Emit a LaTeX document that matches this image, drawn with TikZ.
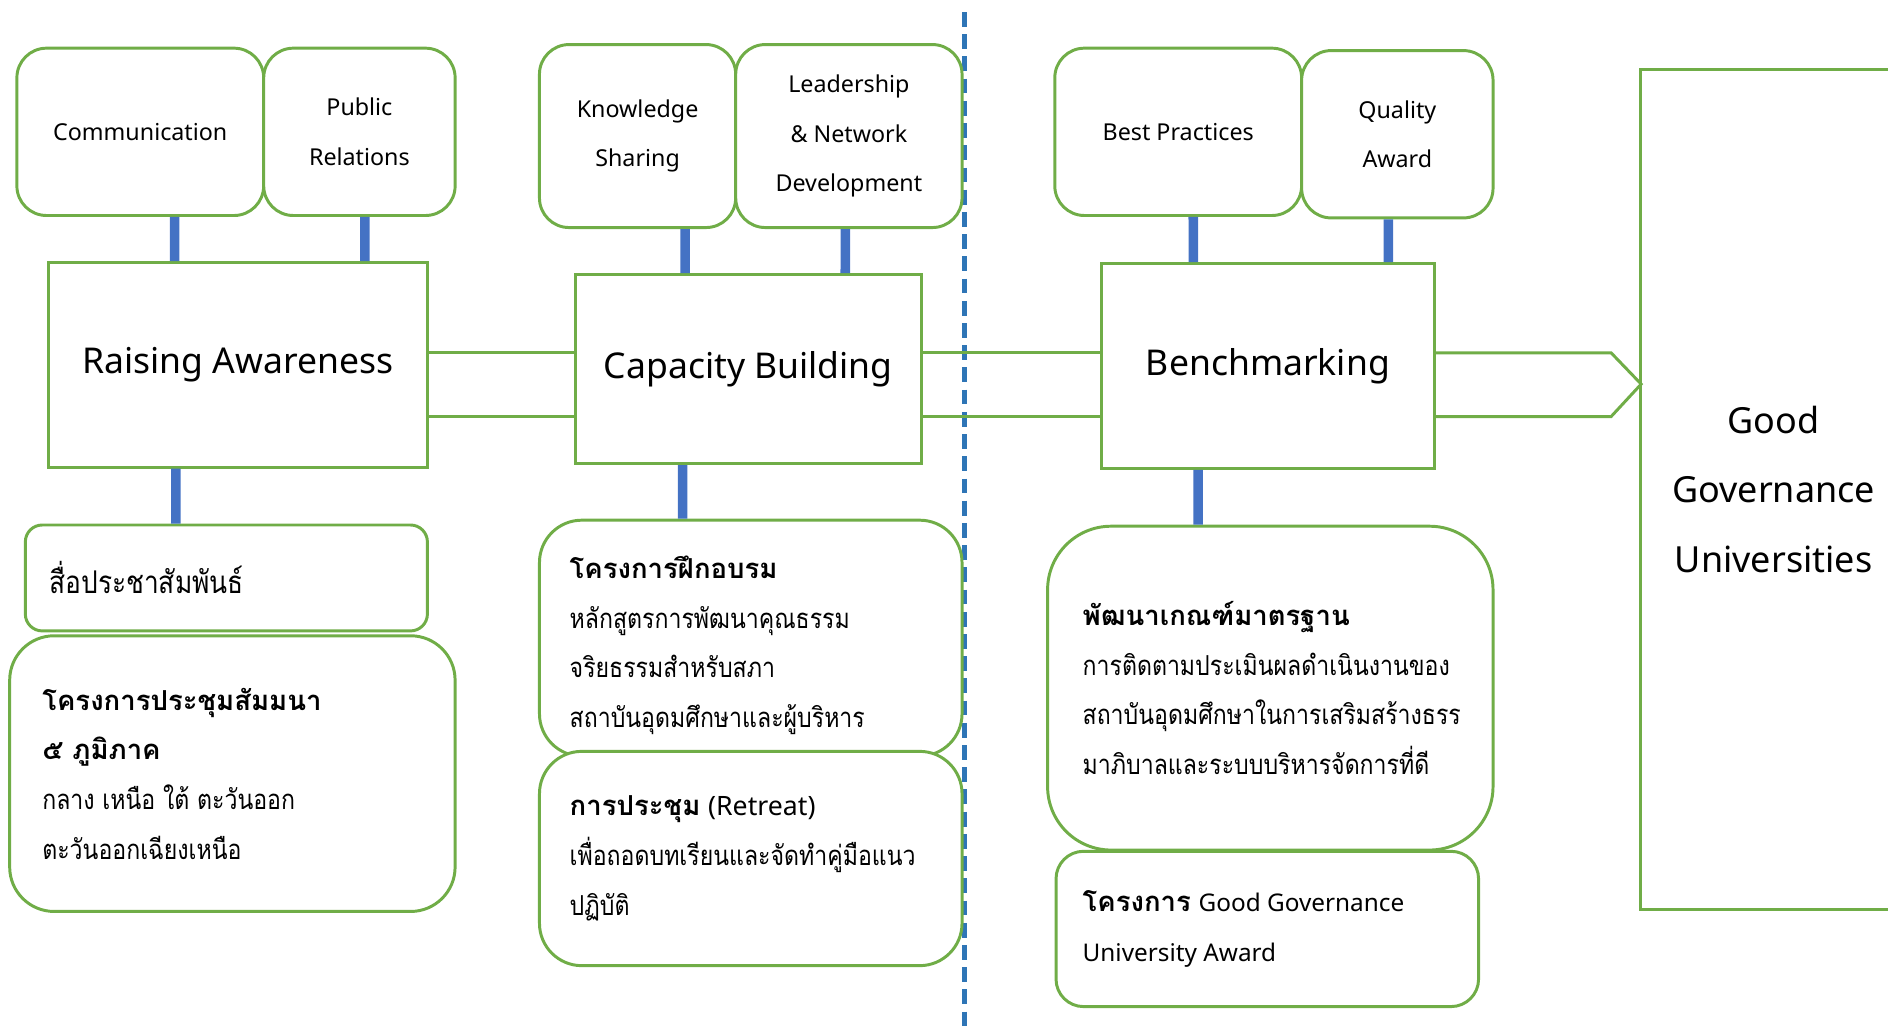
\documentclass[tikz,border=0pt]{standalone}
\usepackage{fontspec}
\setmainfont{Noto Sans}
\newfontfamily\thfont[Script=Thai,FakeStretch=0.84]{Loma}
\newfontfamily\thhead[Script=Thai]{Loma}
\usetikzlibrary{positioning}
\definecolor{ggreen}{HTML}{70AD47}
\definecolor{gblue}{HTML}{4472C4}
\definecolor{dblue}{HTML}{2E75B6}
\newcommand{\en}[1]{{\rmfamily\fontsize{11.5}{23.5}\selectfont #1}}
\newcommand{\hd}[1]{{\thhead\bfseries #1}}

\begin{document}
\begin{tikzpicture}[x=0.02cm,y=-0.02cm,
    box/.style={draw=ggreen, line width=1.4pt, fill=white, rounded corners=14pt, align=center, inner sep=0pt, font=\fontsize{11}{23.3}\selectfont},
    stage/.style={draw=ggreen, line width=1.4pt, fill=white, inner sep=0pt, font=\fontsize{16.8}{20}\selectfont},
    note/.style={draw=ggreen, line width=1.4pt, fill=white, inner sep=0pt},
    txt/.style={align=left, inner sep=0pt, font=\thfont\fontsize{13}{23.5}\selectfont},
    link/.style={draw=gblue, line width=4.5pt},
    band/.style={draw=ggreen, line width=1.4pt}]
        \useasboundingbox (0,0) rectangle (1568,854);
        \draw[dblue, line width=2pt, dash pattern=on 7pt off 3.5pt] (801,10) -- (801,854);

        \node[box, minimum width=4.1cm, minimum height=2.78cm] (comm) at (116.5,109.5) {Communication};
        \node[box, minimum width=3.18cm, minimum height=2.78cm] (pr) at (298.5,109.5) {Public\\Relations};
        \node[box, minimum width=3.26cm, minimum height=3.04cm] (ks) at (529.5,113) {Knowledge\\Sharing};
        \node[box, minimum width=3.76cm, minimum height=3.04cm] (lead) at (705,113) {Leadership\\\& Network\\Development};
        \node[box, minimum width=4.1cm, minimum height=2.78cm] (bp) at (978.5,109.5) {Best Practices};
        \node[box, minimum width=3.18cm, minimum height=2.78cm] (qa) at (1160.5,111.5) {Quality\\Award};

        \node[stage, minimum width=6.3cm, minimum height=3.4cm] (ra) at (197.5,303) {Raising Awareness};
        \node[stage, minimum width=5.74cm, minimum height=3.14cm] (cb) at (621.5,306.5) {Capacity Building};
        \node[stage, minimum width=5.52cm, minimum height=3.4cm] (bench) at (1053,304) {Benchmarking};

        \node[note, rounded corners=8pt, minimum width=6.68cm, minimum height=1.76cm] (media) at (188,480) {};
        \node[note, rounded corners=21pt, minimum width=7.4cm, minimum height=4.58cm] (seminar) at (193,642.5) {};
        \node[note, rounded corners=20pt, minimum width=7.02cm, minimum height=3.92cm] (train) at (623.5,530) {};
        \node[note, rounded corners=20pt, minimum width=7.02cm, minimum height=3.56cm] (retreat) at (623.5,713) {};
        \node[note, rounded corners=30pt, minimum width=7.4cm, minimum height=5.38cm] (std) at (1055,571.5) {};
        \node[note, rounded corners=13pt, minimum width=7.02cm, minimum height=2.58cm] (award) at (1052.5,771.5) {};

        \node[txt, right=0.42cm of media.west, font=\thfont\fontsize{14.8}{23.5}\selectfont] (mediaT) {สื่อประชาสัมพันธ์};
        \node[txt, right=0.56cm of seminar.west] (seminarT) {\hd{โครงการประชุมสัมมนา}\\\hd{๕ ภูมิภาค}\\กลาง เหนือ ใต้ ตะวันออก\\ตะวันออกเฉียงเหนือ};
        \node[txt, right=0.52cm of train.west, yshift=-0.12cm] (trainT) {\hd{โครงการฝึกอบรม}\\หลักสูตรการพัฒนาคุณธรรม\\จริยธรรมสำหรับสภา\\สถาบันอุดมศึกษาและผู้บริหาร};
        \node[txt, right=0.52cm of retreat.west] (retreatT) {\hd{การประชุม} {\rmfamily\fontsize{12.6}{23.5}\selectfont(Retreat)}\\เพื่อถอดบทเรียนและจัดทำคู่มือแนว\\ปฏิบัติ};
        \node[txt, right=0.6cm of std.west] (stdT) {\hd{พัฒนาเกณฑ์มาตรฐาน}\\การติดตามประเมินผลดำเนินงานของ\\สถาบันอุดมศึกษาในการเสริมสร้างธรร\\มาภิบาลและระบบบริหารจัดการที่ดี};
        \node[txt, right=0.46cm of award.west] (awardT) {\hd{โครงการ} \en{Good Governance}\\\en{University Award}};

        \node[align=center, inner sep=0pt, minimum width=4.4cm, minimum height=13.94cm, font=\fontsize{17}{33}\selectfont] (gg) at (1473,406.5) {Good\\Governance\\Universities};
        \draw[band] (gg.north east) -- (gg.north west) -- (gg.south west) -- (gg.south east);

        \coordinate (bandtop) at (0,293);
        \coordinate (bandbot) at (0,346);
        \coordinate (tip) at (1363,319);
        \draw[band] (ra.east |- bandtop) -- (cb.west |- bandtop);
        \draw[band] (ra.east |- bandbot) -- (cb.west |- bandbot);
        \draw[band] (cb.east |- bandtop) -- (bench.west |- bandtop);
        \draw[band] (cb.east |- bandbot) -- (bench.west |- bandbot);
        \draw[band] (bench.east |- bandtop) -- (1338,293) -- (tip) -- (1338,346) -- (bench.east |- bandbot);

        \draw[link] ([xshift=0.57cm]comm.south) -- ([xshift=-1.05cm]ra.north);
        \draw[link] ([xshift=0.09cm]pr.south) -- ([xshift=2.11cm]ra.north);
        \draw[link] ([xshift=0.79cm]ks.south) -- ([xshift=-1.05cm]cb.north);
        \draw[link] ([xshift=-0.06cm]lead.south) -- ([xshift=1.61cm]cb.north);
        \draw[link] ([xshift=0.25cm]bp.south) -- ([xshift=-1.24cm]bench.north);
        \draw[link] ([xshift=-0.15cm]qa.south) -- ([xshift=2cm]bench.north);
        \draw[link] ([xshift=-1.03cm]ra.south) -- ([xshift=-0.84cm]media.north);
        \draw[link] ([xshift=-1.09cm]cb.south) -- ([xshift=-1.13cm]train.north);
        \draw[link] ([xshift=-1.16cm]bench.south) -- ([xshift=-1.2cm]std.north);
\end{tikzpicture}
\end{document}
